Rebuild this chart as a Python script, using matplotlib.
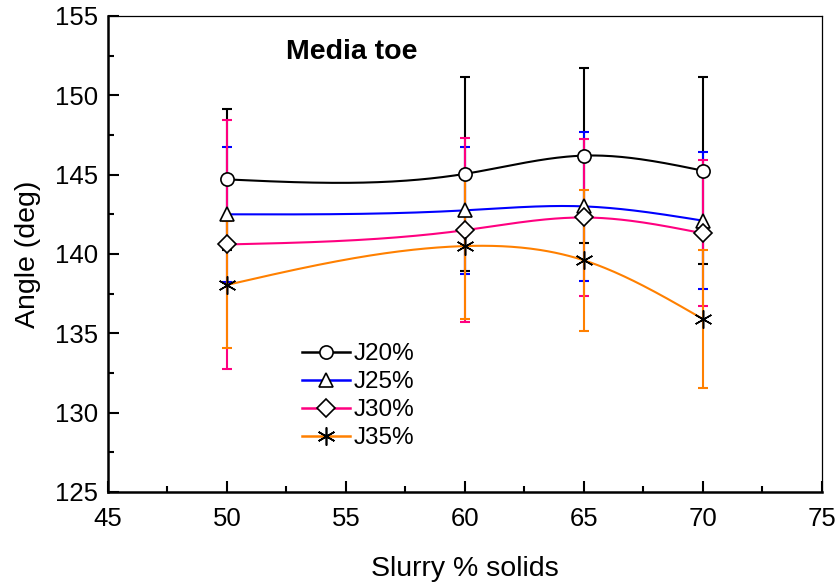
import numpy as np
import matplotlib
matplotlib.use("Agg")
import matplotlib.pyplot as plt

plt.rcParams['font.family'] = ['Liberation Sans', 'DejaVu Sans']

solids = [50, 60, 65, 70]
series = ['J20%', 'J25%', 'J30%', 'J35%']
angle_j20 = [144.7, 145.05, 146.2, 145.25]
angle_j25 = [142.5, 142.75, 143.0, 142.1]
angle_j30 = [140.6, 141.5, 142.3, 141.3]
angle_j35 = [138.05, 140.5, 139.6, 135.9]
err_j20 = [4.45, 6.1, 5.5, 5.9]
err_j25 = [4.25, 4.0, 4.7, 4.3]
err_j30 = [7.85, 5.8, 4.95, 4.6]
err_j35 = [4.0, 4.6, 4.45, 4.35]

colors = ['#000000', '#0000ff', '#ff0080', '#ff8000']
markers = ['o', '^', 'D', (6, 2, 0)]
marker_sizes = [9.5, 10, 9, 13]


def natural_spline(x, y, n=200):
    # natural cubic spline through the points, for a smooth connecting line
    x = np.asarray(x, float)
    y = np.asarray(y, float)
    k = len(x)
    h = np.diff(x)
    A = np.zeros((k, k))
    b = np.zeros(k)
    A[0, 0] = A[-1, -1] = 1
    for i in range(1, k - 1):
        A[i, i - 1] = h[i - 1]
        A[i, i] = 2 * (h[i - 1] + h[i])
        A[i, i + 1] = h[i]
        b[i] = 6 * ((y[i + 1] - y[i]) / h[i] - (y[i] - y[i - 1]) / h[i - 1])
    M = np.linalg.solve(A, b)
    xs = np.linspace(x[0], x[-1], n)
    ys = np.empty_like(xs)
    for j, xv in enumerate(xs):
        i = min(np.searchsorted(x, xv, side='right') - 1, k - 2)
        t1 = x[i + 1] - xv
        t0 = xv - x[i]
        ys[j] = (M[i] * t1 ** 3 + M[i + 1] * t0 ** 3) / (6 * h[i]) \
            + (y[i] / h[i] - M[i] * h[i] / 6) * t1 \
            + (y[i + 1] / h[i] - M[i + 1] * h[i] / 6) * t0
    return xs, ys


fig = plt.figure(figsize=(8.39, 5.83), dpi=100)
ax = fig.add_axes([0.1287, 0.1561, 0.851, 0.8165])

values = [angle_j20, angle_j25, angle_j30, angle_j35]
errors = [err_j20, err_j25, err_j30, err_j35]

for i, (vals, errs) in enumerate(zip(values, errors)):
    ax.errorbar(solids, vals, yerr=errs, fmt='none', ecolor=colors[i],
                elinewidth=1.5, capsize=3.8, capthick=1.5, zorder=2 + i * 0.1)

for i, vals in enumerate(values):
    xs, ys = natural_spline(solids, vals)
    ax.plot(xs, ys, color=colors[i], lw=1.5, zorder=3)

for i, vals in enumerate(values):
    if i == 3:
        ax.plot(solids, vals, ls='none', marker=markers[i], ms=marker_sizes[i],
                mec='black', mew=1.1, zorder=4)
    else:
        ax.plot(solids, vals, ls='none', marker=markers[i], ms=marker_sizes[i],
                mfc='white', mec='black', mew=1.2, zorder=4)

# legend entries: line with a marker in the middle
handles = []
for i, name in enumerate(series):
    kw = dict(color=colors[i], lw=1.8, marker=markers[i], ms=marker_sizes[i],
              mec='black', mew=1.2)
    if i != 3:
        kw['mfc'] = 'white'
    h, = ax.plot([], [], label=name, **kw)
    handles.append(h)
ax.legend(handles=handles, loc='upper left', bbox_to_anchor=(0.272, 0.313),
          frameon=False, fontsize=17.5, handlelength=1.95, handletextpad=0.15,
          labelspacing=0.25, borderpad=0, borderaxespad=0, numpoints=1)

ax.text(52.5, 152.7, 'Media toe', fontsize=20.5, fontweight='bold',
        va='center', ha='left')

ax.set_xlim(45, 75)
ax.set_ylim(125, 155)
ax.set_xticks(np.arange(45, 76, 5))
ax.set_yticks(np.arange(125, 156, 5))
ax.set_xticks(np.arange(47.5, 75, 5), minor=True)
ax.set_yticks(np.arange(127.5, 155, 5), minor=True)
ax.tick_params(which='both', direction='in', top=False, right=False,
               width=1.5, labelsize=18.5, colors='black')
ax.tick_params(axis='y', which='major', length=8, pad=7)
ax.tick_params(axis='x', which='major', length=8, pad=11)
ax.tick_params(which='minor', length=4)

for side in ['left', 'bottom']:
    ax.spines[side].set_linewidth(1.8)
for side in ['top', 'right']:
    ax.spines[side].set_linewidth(0.9)

ax.set_xlabel('Slurry % solids', fontsize=20.5, labelpad=18)
ax.set_ylabel('Angle (deg)', fontsize=20.5, labelpad=10)

fig.savefig('out.png', dpi=100)
